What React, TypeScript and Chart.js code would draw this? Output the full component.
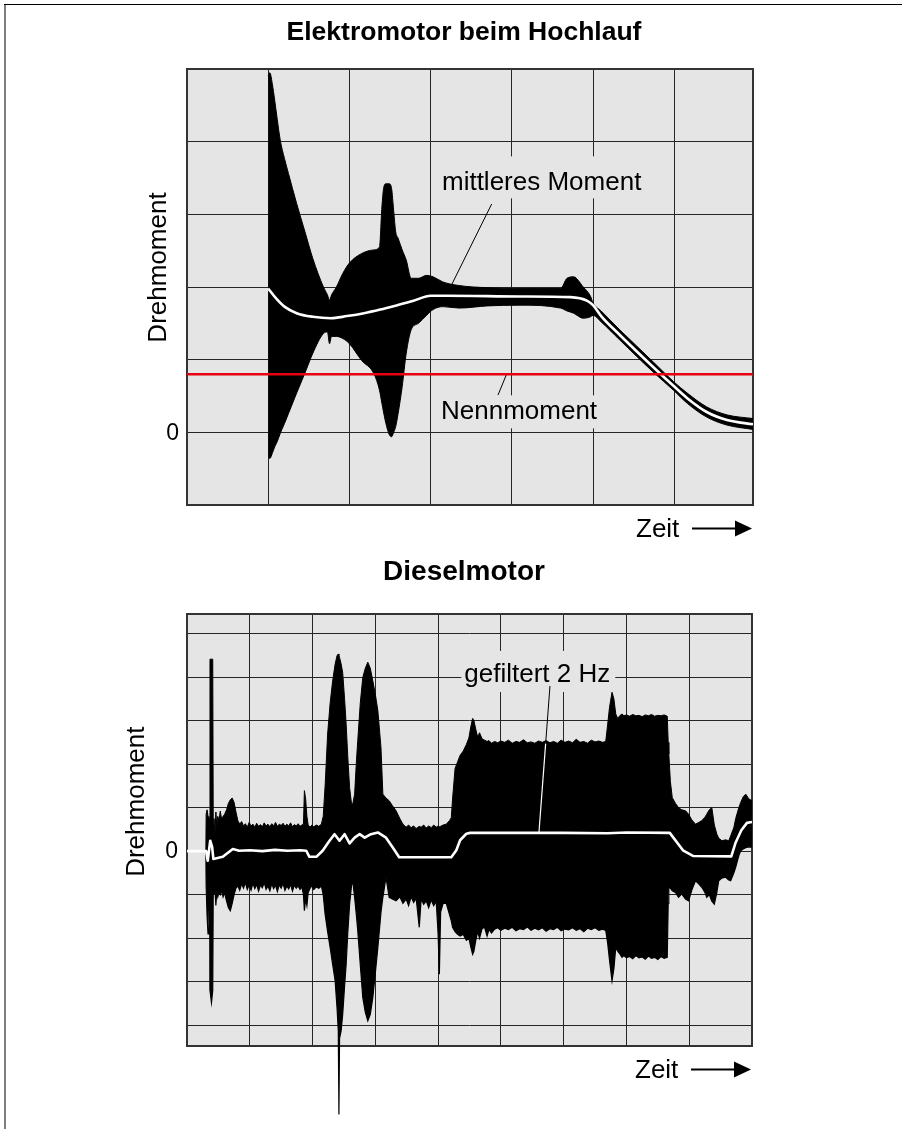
import React, { useEffect, useRef } from 'react';
import { Chart, registerables } from 'chart.js';

Chart.register(...registerables);

const FONT = '"Liberation Sans", Arial, Helvetica, sans-serif';
const PLOT_BG = '#e5e5e5';
const GRID_COLOR = '#262626';
const FRAME_COLOR = '#333333';
const RED = '#e8000f';
const TITLE_X = 464;

// ================= Elektromotor beim Hochlauf =================
const motorXMax = 6.97;
const motorYMin = -1;
const motorYMax = 5;
const motorXTicks = [1, 2, 3, 4, 5, 6];
const motorYTicks = [0, 1, 2, 3, 4];

const motorTime = [
  1.0, 1.02, 1.05, 1.08, 1.11, 1.15, 1.2, 1.25, 1.35, 1.45,
  1.55, 1.68, 1.73, 1.755, 1.78, 1.84, 1.92, 2.0, 2.15, 2.3,
  2.37, 2.40, 2.42, 2.45, 2.49, 2.52, 2.545, 2.57, 2.6, 2.65,
  2.7, 2.76, 2.85, 2.95, 3.03, 3.15, 3.35, 3.7, 4.1, 4.6,
  4.68, 4.76, 4.88, 4.97, 5.0, 5.1, 5.33, 5.74, 5.99, 6.16,
  6.4, 6.65, 6.97,
];
const motorUpper = [
  4.91, 4.95, 4.80, 4.57, 4.32, 4.01, 3.77, 3.56, 3.15, 2.77,
  2.39, 2.00, 1.89, 1.82, 1.89, 2.00, 2.19, 2.33, 2.46, 2.51,
  2.55, 3.10, 3.35, 3.42, 3.42, 3.35, 3.05, 2.76, 2.67, 2.51,
  2.37, 2.12, 2.12, 2.16, 2.14, 2.07, 2.02, 1.99, 1.98, 1.98,
  2.12, 2.14, 2.00, 1.87, 1.78, 1.67, 1.41, 0.97, 0.70, 0.54,
  0.35, 0.24, 0.19,
];
const motorLower = [
  -0.34, -0.36, -0.29, -0.20, -0.13, -0.01, 0.12, 0.26, 0.54, 0.81,
  1.09, 1.36, 1.38, 1.22, 1.32, 1.32, 1.29, 1.22, 0.99, 0.81,
  0.58, 0.40, 0.28, 0.12, -0.03, -0.06, 0.00, 0.08, 0.26, 0.63,
  1.09, 1.41, 1.50, 1.61, 1.69, 1.73, 1.71, 1.74, 1.75, 1.71,
  1.67, 1.64, 1.57, 1.59, 1.61, 1.52, 1.27, 0.83, 0.58, 0.40,
  0.21, 0.10, 0.04,
];
const meanTime = [
  1.0, 1.1, 1.2, 1.35, 1.55, 1.77, 1.97, 2.18, 2.38, 2.59,
  2.79, 3.0, 3.2, 4.1, 4.72, 4.93, 5.0, 5.1, 5.33, 5.74,
  5.99, 6.16, 6.4, 6.65, 6.97,
];
const meanTorque = [
  1.98, 1.84, 1.73, 1.64, 1.59, 1.57, 1.60, 1.64, 1.69, 1.75,
  1.81, 1.88, 1.88, 1.87, 1.86, 1.81, 1.75, 1.60, 1.34, 0.90,
  0.64, 0.47, 0.28, 0.17, 0.11,
];
const ratedTorque = 0.8;

// ================= Dieselmotor =================
const dieselXMax = 9;
const dieselYMin = -4.476;
const dieselYMax = 5.448;
const dieselXTicks = [1, 2, 3, 4, 5, 6, 7, 8];
const dieselYTicks = [-4, -3, -2, -1, 0, 1, 2, 3, 4, 5];

const dieselTime = [
  0.300, 0.305, 0.320, 0.335, 0.350, 0.362, 0.366, 0.390, 0.410, 0.418,
  0.430, 0.445, 0.460, 0.475, 0.490, 0.510, 0.530, 0.550, 0.575, 0.600,
  0.630, 0.660, 0.690, 0.720, 0.750, 0.780, 0.810, 0.840, 0.870, 0.900,
  0.930, 0.960, 0.990, 1.020, 1.050, 1.080, 1.110, 1.140, 1.170, 1.200,
  1.230, 1.260, 1.290, 1.320, 1.350, 1.380, 1.410, 1.440, 1.470, 1.500,
  1.530, 1.560, 1.590, 1.620, 1.650, 1.680, 1.710, 1.740, 1.770, 1.800,
  1.830, 1.855, 1.870, 1.890, 1.910, 1.930, 1.960, 1.990, 2.020, 2.060,
  2.100, 2.140, 2.170, 2.200, 2.240, 2.280, 2.320, 2.360, 2.390, 2.410,
  2.420, 2.430, 2.455, 2.480, 2.510, 2.535, 2.560, 2.590, 2.620, 2.640,
  2.670, 2.700, 2.720, 2.760, 2.800, 2.840, 2.880, 2.920, 2.960, 3.000,
  3.040, 3.090, 3.120, 3.170, 3.220, 3.270, 3.330, 3.390, 3.440, 3.490,
  3.530, 3.570, 3.610, 3.650, 3.700, 3.730, 3.770, 3.810, 3.850, 3.890,
  3.930, 3.970, 4.000, 4.020, 4.040, 4.080, 4.130, 4.180, 4.210, 4.230,
  4.270, 4.310, 4.350, 4.400, 4.450, 4.490, 4.520, 4.550, 4.570, 4.600,
  4.630, 4.660, 4.700, 4.740, 4.780, 4.810, 4.850, 4.900, 4.950, 5.000,
  5.060, 5.120, 5.180, 5.240, 5.300, 5.360, 5.420, 5.480, 5.540, 5.600,
  5.660, 5.720, 5.780, 5.840, 5.900, 5.960, 6.020, 6.080, 6.140, 6.200,
  6.260, 6.320, 6.380, 6.440, 6.500, 6.560, 6.620, 6.670, 6.700, 6.730,
  6.770, 6.800, 6.830, 6.860, 6.900, 6.930, 6.960, 7.000, 7.050, 7.100,
  7.150, 7.200, 7.250, 7.300, 7.350, 7.400, 7.450, 7.500, 7.550, 7.600,
  7.650, 7.665, 7.675, 7.700, 7.730, 7.780, 7.830, 7.880, 7.940, 7.990,
  8.040, 8.100, 8.150, 8.200, 8.250, 8.280, 8.320, 8.360, 8.400, 8.440,
  8.470, 8.520, 8.580, 8.630, 8.660, 8.710, 8.740, 8.790, 8.820, 8.860,
  8.900, 8.950, 9.000,
];
const dieselUpper = [
  0.02, 0.85, 0.95, 0.80, 0.70, 0.75, 4.41, 4.41, 4.41, 0.60,
  0.75, 0.40, 0.90, 0.55, 0.80, 0.70, 0.92, 0.75, 0.80, 0.85,
  0.95, 1.10, 1.18, 1.22, 1.12, 0.90, 0.70, 0.62, 0.68, 0.58,
  0.63, 0.55, 0.66, 0.58, 0.62, 0.55, 0.64, 0.57, 0.61, 0.56,
  0.65, 0.58, 0.62, 0.56, 0.63, 0.58, 0.66, 0.57, 0.62, 0.59,
  0.64, 0.57, 0.62, 0.58, 0.65, 0.56, 0.61, 0.58, 0.63, 0.57,
  0.60, 0.62, 1.39, 1.20, 0.80, 0.60, 0.55, 0.60, 0.56, 0.60,
  0.57, 0.62, 0.80, 1.50, 2.69, 3.40, 3.91, 4.30, 4.49, 4.53,
  4.50, 4.45, 4.30, 4.10, 3.50, 2.92, 2.20, 1.46, 1.10, 1.08,
  1.31, 2.10, 2.54, 3.40, 3.99, 4.20, 4.34, 4.20, 3.91, 3.60,
  3.23, 2.38, 1.31, 1.22, 1.16, 1.05, 0.93, 0.75, 0.62, 0.55,
  0.60, 0.54, 0.58, 0.52, 0.57, 0.55, 0.60, 0.53, 0.58, 0.54,
  0.60, 0.55, 0.58, 0.56, 0.57, 0.60, 0.62, 0.70, 0.77, 1.20,
  1.90, 2.05, 2.20, 2.30, 2.45, 2.60, 2.85, 3.05, 3.00, 2.80,
  2.62, 2.72, 2.58, 2.55, 2.52, 2.54, 2.48, 2.52, 2.49, 2.53,
  2.50, 2.55, 2.48, 2.52, 2.50, 2.56, 2.49, 2.51, 2.48, 2.53,
  2.50, 2.54, 2.49, 2.52, 2.48, 2.55, 2.50, 2.53, 2.49, 2.57,
  2.50, 2.52, 2.48, 2.55, 2.51, 2.53, 2.50, 2.52, 2.90, 3.30,
  3.65, 3.50, 3.15, 3.05, 3.12, 3.15, 3.11, 3.13, 3.10, 3.14,
  3.11, 3.12, 3.09, 3.13, 3.11, 3.14, 3.10, 3.12, 3.11, 3.13,
  3.10, 2.50, 2.23, 1.60, 1.23, 1.10, 1.00, 0.95, 0.93, 0.85,
  0.72, 0.62, 0.66, 0.70, 0.78, 0.85, 0.95, 1.00, 0.60, 0.39,
  0.30, 0.24, 0.26, 0.24, 0.35, 0.54, 0.75, 1.00, 1.12, 1.25,
  1.31, 1.20, 1.16,
];
const dieselLower = [
  -0.02, -0.80, -1.50, -1.90, -1.30, -1.10, -3.20, -3.48, -3.20, -0.90,
  -1.00, -0.85, -1.25, -0.90, -1.05, -0.95, -1.00, -0.90, -1.05, -0.95,
  -1.15, -1.30, -1.37, -1.20, -1.00, -0.85, -0.80, -0.90, -0.75, -0.85,
  -0.72, -0.88, -0.78, -0.90, -0.74, -0.86, -0.76, -0.92, -0.78, -0.84,
  -0.72, -0.88, -0.80, -0.91, -0.75, -0.86, -0.78, -0.93, -0.77, -0.85,
  -0.74, -0.90, -0.80, -0.87, -0.76, -0.92, -0.78, -0.85, -0.80, -0.88,
  -0.82, -1.00, -1.37, -1.10, -1.25, -0.95, -0.85, -0.80, -0.88, -0.82,
  -0.85, -0.80, -1.00, -1.45, -1.85, -2.21, -2.60, -2.98, -3.60, -4.13,
  -6.05, -4.30, -4.13, -3.75, -3.10, -2.60, -1.90, -1.22, -0.80, -0.68,
  -1.06, -1.50, -1.83, -2.60, -3.36, -3.70, -3.90, -3.75, -3.36, -2.80,
  -2.21, -1.40, -1.06, -0.60, -1.06, -1.10, -1.14, -1.05, -1.20, -1.10,
  -1.25, -1.05, -1.18, -1.08, -1.75, -1.10, -1.22, -1.14, -1.30, -1.12,
  -1.25, -1.15, -1.90, -2.83, -1.40, -1.20, -1.20, -1.45, -1.60, -1.75,
  -1.85, -1.91, -1.95, -1.91, -2.05, -2.00, -2.20, -2.37, -2.30, -2.05,
  -1.85, -2.00, -1.78, -1.75, -1.95, -1.80, -1.88, -1.79, -1.76, -1.82,
  -1.77, -1.80, -1.75, -1.83, -1.78, -1.80, -1.74, -1.82, -1.77, -1.81,
  -1.76, -1.84, -1.78, -1.80, -1.75, -1.83, -1.79, -1.81, -1.76, -1.82,
  -1.78, -1.85, -1.77, -1.80, -1.76, -1.82, -1.79, -1.82, -2.10, -2.50,
  -2.98, -2.70, -2.21, -2.30, -2.37, -2.44, -2.40, -2.45, -2.42, -2.47,
  -2.40, -2.45, -2.43, -2.48, -2.41, -2.46, -2.44, -2.49, -2.42, -2.46,
  -2.44, -1.20, -0.83, -0.85, -0.91, -0.95, -1.06, -0.98, -1.10, -1.14,
  -0.90, -0.68, -0.75, -0.83, -0.95, -1.06, -1.00, -1.15, -1.22, -0.95,
  -0.68, -0.62, -0.60, -0.66, -0.68, -0.50, -0.37, -0.10, 0.01, 0.05,
  0.08, 0.10, 0.09,
];
const filteredTime = [
  0, 0.305, 0.33, 0.37, 0.40, 0.42, 0.57, 0.73, 0.83, 1.0,
  1.2, 1.4, 1.6, 1.8, 1.9, 1.95, 2.06, 2.16, 2.27, 2.35,
  2.43, 2.51, 2.59, 2.67, 2.75, 2.83, 2.93, 3.04, 3.17, 3.28,
  3.38, 4.21, 4.29, 4.35, 4.45, 4.51, 5.0, 6.0, 6.7, 7.0,
  7.69, 7.9, 8.06, 8.67, 8.74, 8.83, 8.92, 9.0,
];
const filteredTorque = [
  0, 0, -0.22, 0.24, 0.10, -0.18, -0.13, 0.05, 0.01, 0.02,
  0.00, 0.03, 0.01, 0.02, 0.01, -0.13, -0.13, 0.01, 0.24, 0.39,
  0.24, 0.39, 0.18, 0.31, 0.39, 0.31, 0.39, 0.43, 0.31, 0.08,
  -0.14, -0.14, 0.02, 0.25, 0.40, 0.42, 0.42, 0.42, 0.41, 0.43,
  0.42, 0.02, -0.11, -0.12, 0.20, 0.48, 0.65, 0.67,
];

// ================= annotations / decoration config =================
type NoteCfg = {
  text: string;
  x: number;
  y: number;
  box: [number, number, number, number];
  from: [number, number];
  to: [number, number];
  whiteFromY?: number;
};
type DecorCfg = {
  title: string;
  titleSize: number;
  titleBaseline: number;
  yLabelBaselineX: number;
  yLabelCenterY: number;
  zeroRightX: number;
  notes: NoteCfg[];
};

const motorDecor: DecorCfg = {
  title: 'Elektromotor beim Hochlauf',
  titleSize: 26.5,
  titleBaseline: 40,
  yLabelBaselineX: 166,
  yLabelCenterY: 267.5,
  zeroRightX: 179,
  notes: [
    { text: 'mittleres Moment', x: 3.14, y: 3.33, box: [5, 34, 6, 8], from: [3.752, 3.142], to: [3.19, 1.876] },
    { text: 'Nennmoment', x: 3.128, y: 0.179, box: [4, 24, 4, 9], from: [3.941, 0.815], to: [3.83, 0.513] },
  ],
};

const dieselDecor: DecorCfg = {
  title: 'Dieselmotor',
  titleSize: 28,
  titleBaseline: 580,
  yLabelBaselineX: 143.5,
  yLabelCenterY: 801.7,
  zeroRightX: 178,
  notes: [
    { text: 'gefiltert 2 Hz', x: 4.417, y: 3.887, box: [3, 31, 5, 10], from: [5.782, 3.795], to: [5.607, 0.441], whiteFromY: 2.47 },
  ],
};

function makeDecor(cfg: DecorCfg) {
  return {
    id: 'decor',
    beforeDraw(chart: any) {
      const { ctx, chartArea: a } = chart;
      ctx.save();
      ctx.fillStyle = PLOT_BG;
      ctx.fillRect(a.left, a.top, a.right - a.left, a.bottom - a.top);
      ctx.restore();
    },
    beforeDatasetsDraw(chart: any) {
      const { ctx, chartArea: a, scales } = chart;
      const xs = scales.x;
      const ys = scales.y;
      ctx.save();
      ctx.strokeStyle = FRAME_COLOR;
      ctx.lineWidth = 2;
      ctx.strokeRect(a.left, a.top, a.right - a.left, a.bottom - a.top);
      ctx.font = `26px ${FONT}`;
      ctx.textAlign = 'left';
      ctx.textBaseline = 'alphabetic';
      for (const n of cfg.notes) {
        const tx = xs.getPixelForValue(n.x);
        const ty = ys.getPixelForValue(n.y);
        const w = ctx.measureText(n.text).width;
        ctx.fillStyle = PLOT_BG;
        ctx.fillRect(tx - n.box[0], ty - n.box[1], w + n.box[0] + n.box[2], n.box[1] + n.box[3]);
        ctx.fillStyle = '#000';
        ctx.fillText(n.text, tx, ty);
        ctx.strokeStyle = '#000';
        ctx.lineWidth = 1;
        ctx.beginPath();
        ctx.moveTo(xs.getPixelForValue(n.from[0]), ys.getPixelForValue(n.from[1]));
        ctx.lineTo(xs.getPixelForValue(n.to[0]), ys.getPixelForValue(n.to[1]));
        ctx.stroke();
      }
      ctx.restore();
    },
    afterDatasetsDraw(chart: any) {
      const { ctx, scales } = chart;
      const xs = scales.x;
      const ys = scales.y;
      ctx.save();
      for (const n of cfg.notes) {
        if (n.whiteFromY === undefined) continue;
        const t = (n.from[1] - n.whiteFromY) / (n.from[1] - n.to[1]);
        const sx = n.from[0] + (n.to[0] - n.from[0]) * t;
        ctx.strokeStyle = '#ffffff';
        ctx.lineWidth = 1.2;
        ctx.beginPath();
        ctx.moveTo(xs.getPixelForValue(sx), ys.getPixelForValue(n.whiteFromY));
        ctx.lineTo(xs.getPixelForValue(n.to[0]), ys.getPixelForValue(n.to[1]));
        ctx.stroke();
      }
      ctx.restore();
    },
    afterDraw(chart: any) {
      const { ctx, chartArea: a, scales } = chart;
      const ys = scales.y;
      ctx.save();
      ctx.fillStyle = '#000';
      ctx.strokeStyle = '#000';
      ctx.font = `bold ${cfg.titleSize}px ${FONT}`;
      ctx.textAlign = 'center';
      ctx.textBaseline = 'alphabetic';
      ctx.fillText(cfg.title, TITLE_X, cfg.titleBaseline);

      ctx.font = `26px ${FONT}`;
      ctx.save();
      ctx.translate(cfg.yLabelBaselineX, cfg.yLabelCenterY);
      ctx.rotate(-Math.PI / 2);
      ctx.textAlign = 'center';
      ctx.fillText('Drehmoment', 0, 0);
      ctx.restore();

      ctx.font = `23px ${FONT}`;
      ctx.textAlign = 'right';
      ctx.textBaseline = 'middle';
      ctx.fillText('0', cfg.zeroRightX, ys.getPixelForValue(0) + 1);

      const b = a.bottom;
      const r = a.right;
      ctx.font = `26px ${FONT}`;
      ctx.textAlign = 'left';
      ctx.textBaseline = 'alphabetic';
      ctx.fillText('Zeit', r - 117, b + 31.7);
      ctx.lineWidth = 2.2;
      ctx.beginPath();
      ctx.moveTo(r - 61, b + 23.5);
      ctx.lineTo(r - 14, b + 23.5);
      ctx.stroke();
      ctx.beginPath();
      ctx.moveTo(r - 18, b + 15.5);
      ctx.lineTo(r - 1, b + 23.5);
      ctx.lineTo(r - 18, b + 31.5);
      ctx.closePath();
      ctx.fill();
      ctx.restore();
    },
  };
}

function pts(xs: number[], ys: number[]) {
  const n = Math.min(xs.length, ys.length);
  const out: { x: number; y: number }[] = [];
  for (let i = 0; i < n; i++) out.push({ x: xs[i], y: ys[i] });
  return out;
}

function axisCfg(min: number, max: number, ticks: number[]) {
  return {
    type: 'linear' as const,
    min,
    max,
    grid: { color: GRID_COLOR, lineWidth: 1, drawTicks: false },
    border: { display: false },
    ticks: { display: false },
    afterBuildTicks: (axis: any) => {
      axis.ticks = ticks.map((v) => ({ value: v }));
    },
  };
}

function motorConfig(): any {
  return {
    type: 'line',
    data: {
      datasets: [
        {
          label: 'Nennmoment',
          data: pts([0, motorXMax], [ratedTorque, ratedTorque]),
          borderColor: RED,
          borderWidth: 2.6,
          pointRadius: 0,
          fill: false,
        },
        {
          label: 'mittleres Moment',
          data: pts(meanTime, meanTorque),
          borderColor: '#ffffff',
          borderWidth: 2.6,
          pointRadius: 0,
          fill: false,
          cubicInterpolationMode: 'monotone',
        },
        {
          label: 'Drehmoment max',
          data: pts(motorTime, motorUpper),
          borderColor: '#000',
          backgroundColor: '#000',
          borderWidth: 1,
          pointRadius: 0,
          fill: '+1',
          cubicInterpolationMode: 'monotone',
        },
        {
          label: 'Drehmoment min',
          data: pts(motorTime, motorLower),
          borderColor: '#000',
          borderWidth: 1,
          pointRadius: 0,
          fill: false,
          cubicInterpolationMode: 'monotone',
        },
      ],
    },
    options: {
      responsive: false,
      animation: false,
      devicePixelRatio: 1,
      events: [],
      layout: { padding: { left: 187, top: 69, right: 149, bottom: 624 } },
      plugins: { legend: { display: false }, tooltip: { enabled: false }, title: { display: false } },
      scales: {
        x: axisCfg(0, motorXMax, motorXTicks),
        y: axisCfg(motorYMin, motorYMax, motorYTicks),
      },
    },
    plugins: [makeDecor(motorDecor)],
  };
}

function dieselConfig(): any {
  return {
    type: 'line',
    data: {
      datasets: [
        {
          label: 'gefiltert 2 Hz',
          data: pts(filteredTime, filteredTorque),
          borderColor: '#ffffff',
          borderWidth: 2.6,
          pointRadius: 0,
          fill: false,
          tension: 0,
          borderJoinStyle: 'round',
        },
        {
          label: 'Drehmoment max',
          data: pts(dieselTime, dieselUpper),
          borderColor: '#000',
          backgroundColor: '#000',
          borderWidth: 1,
          pointRadius: 0,
          fill: '+1',
          tension: 0,
        },
        {
          label: 'Drehmoment min',
          data: pts(dieselTime, dieselLower),
          borderColor: '#000',
          borderWidth: 1.2,
          pointRadius: 0,
          fill: false,
          tension: 0,
          clip: false,
        },
      ],
    },
    options: {
      responsive: false,
      animation: false,
      devicePixelRatio: 1,
      events: [],
      layout: { padding: { left: 187, top: 614, right: 150, bottom: 83 } },
      plugins: { legend: { display: false }, tooltip: { enabled: false }, title: { display: false } },
      scales: {
        x: axisCfg(0, dieselXMax, dieselXTicks),
        y: axisCfg(dieselYMin, dieselYMax, dieselYTicks),
      },
    },
    plugins: [makeDecor(dieselDecor)],
  };
}

export default function App() {
  const motorRef = useRef<HTMLCanvasElement>(null);
  const dieselRef = useRef<HTMLCanvasElement>(null);

  useEffect(() => {
    const c1 = new Chart(motorRef.current as HTMLCanvasElement, motorConfig());
    const c2 = new Chart(dieselRef.current as HTMLCanvasElement, dieselConfig());
    return () => {
      c1.destroy();
      c2.destroy();
    };
  }, []);

  const canvasStyle: React.CSSProperties = { position: 'absolute', left: 0, top: 0, width: 902, height: 1129 };

  return (
    <div style={{ position: 'fixed', left: 0, top: 0, width: 902, height: 1129, background: '#ffffff', overflow: 'hidden' }}>
      <div style={{ position: 'absolute', left: 4, top: 4, width: 2, height: 1125, background: '#808080' }} />
      <div style={{ position: 'absolute', left: 4, top: 4, width: 898, height: 1, background: '#000000' }} />
      <canvas ref={motorRef} width={902} height={1129} style={canvasStyle} />
      <canvas ref={dieselRef} width={902} height={1129} style={canvasStyle} />
    </div>
  );
}
